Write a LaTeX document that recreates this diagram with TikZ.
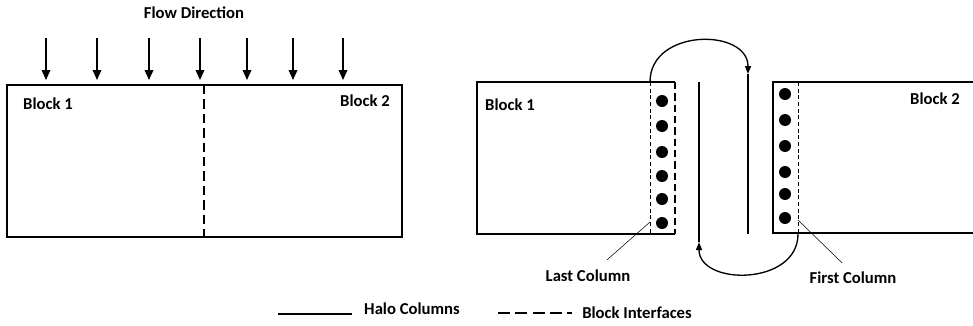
\documentclass[tikz,border=0pt]{standalone}
\usepackage{fontspec}
\setmainfont{Carlito}
\usetikzlibrary{arrows.meta}
\tikzset{
  lbl/.style={font=\bfseries\fontsize{12.5}{14}\selectfont, inner sep=0pt},
  edge/.style={line width=1.3pt},
  iface/.style={line width=1.6pt, dash pattern=on 5.5pt off 3pt},
  inner/.style={line width=0.7pt, dash pattern=on 3pt off 2pt},
  halo/.style={line width=1pt},
  flow/.style={line width=1pt, -{Triangle[length=7.5pt, width=6.5pt]}},
  turn/.style={line width=1pt, -{Triangle[length=6pt, width=4.5pt]}},
  lead/.style={line width=0.4pt},
  dot/.style={circle, fill, inner sep=0pt, minimum size=9pt}
}
\begin{document}
\begin{tikzpicture}[x=0.75pt, y=-0.75pt]
        \useasboundingbox (0,0) rectangle (973,325);

        % left picture: two blocks and the flow
        \node[lbl] (flow) at (194,13) {Flow Direction};
        \foreach \x in {46,97,149,200,247,293,343}
            \draw[flow] (\x,38) -- (\x,80);
        \draw[edge] (7,85) rectangle (402,237);
        \draw[iface, dash pattern=on 7pt off 3.8pt] (204,85) -- (204,237);
        \node[lbl] (lblockA) at (48,104) {Block 1};
        \node[lbl] (lblockB) at (365,101) {Block 2};

        % right picture: block 1 with its last column
        \draw[edge] (675,82) -- (477,82) -- (477,234) -- (675,234);
        \draw[iface] (675,82) -- (675,234);
        \draw[inner] (650,82) -- (650,234);
        \node[lbl] (rblockA) at (510,105) {Block 1};
        \foreach \y [count=\i] in {101,126,152,176,199,223}
            \node[dot] (last\i) at (662,\y) {};

        % block 2 with its first column
        \draw[edge] (973,82) -- (773,82) -- (773,233) -- (973,233);
        \draw[iface] (773,82) -- (773,233);
        \draw[inner] (798,82) -- (798,233);
        \node[lbl] (rblockB) at (935,99) {Block 2};
        \foreach \y [count=\i] in {94,120,146,172,194,218}
            \node[dot] (first\i) at (785,\y) {};

        % halo columns and the exchange
        \draw[turn] (650,82) .. controls (650,28) and (748,28) .. (748,74);
        \draw[halo] (748,74) -- (748,234);
        \draw[turn] (798,234) .. controls (798,286) and (699,286) .. (699,242);
        \draw[halo] (699,242) -- (699,82);

        % labels of the columns
        \node[lbl] (lastcol) at (588,276) {Last Column};
        \node[lbl] (firstcol) at (853,278) {First Column};
        \coordinate (lastend) at (650,222);
        \coordinate (firstend) at (798,220);
        \draw[lead] (lastcol.north) ++(19,-10) -- (lastend);
        \draw[lead] (firstcol.north) ++(-11,-9) -- (firstend);

        % legend
        \coordinate (haloA) at (278,314);
        \coordinate (haloB) at (352,314);
        \draw[halo] (haloA) -- (haloB);
        \node[lbl] (halotxt) at (412,309) {Halo Columns};
        \coordinate (ifaceA) at (498,313);
        \coordinate (ifaceB) at (572,313);
        \draw[line width=1.6pt, dash pattern=on 9pt off 4pt] (ifaceA) -- (ifaceB);
        \node[lbl] (ifacetxt) at (637,313) {Block Interfaces};
    \end{tikzpicture}
\end{document}
